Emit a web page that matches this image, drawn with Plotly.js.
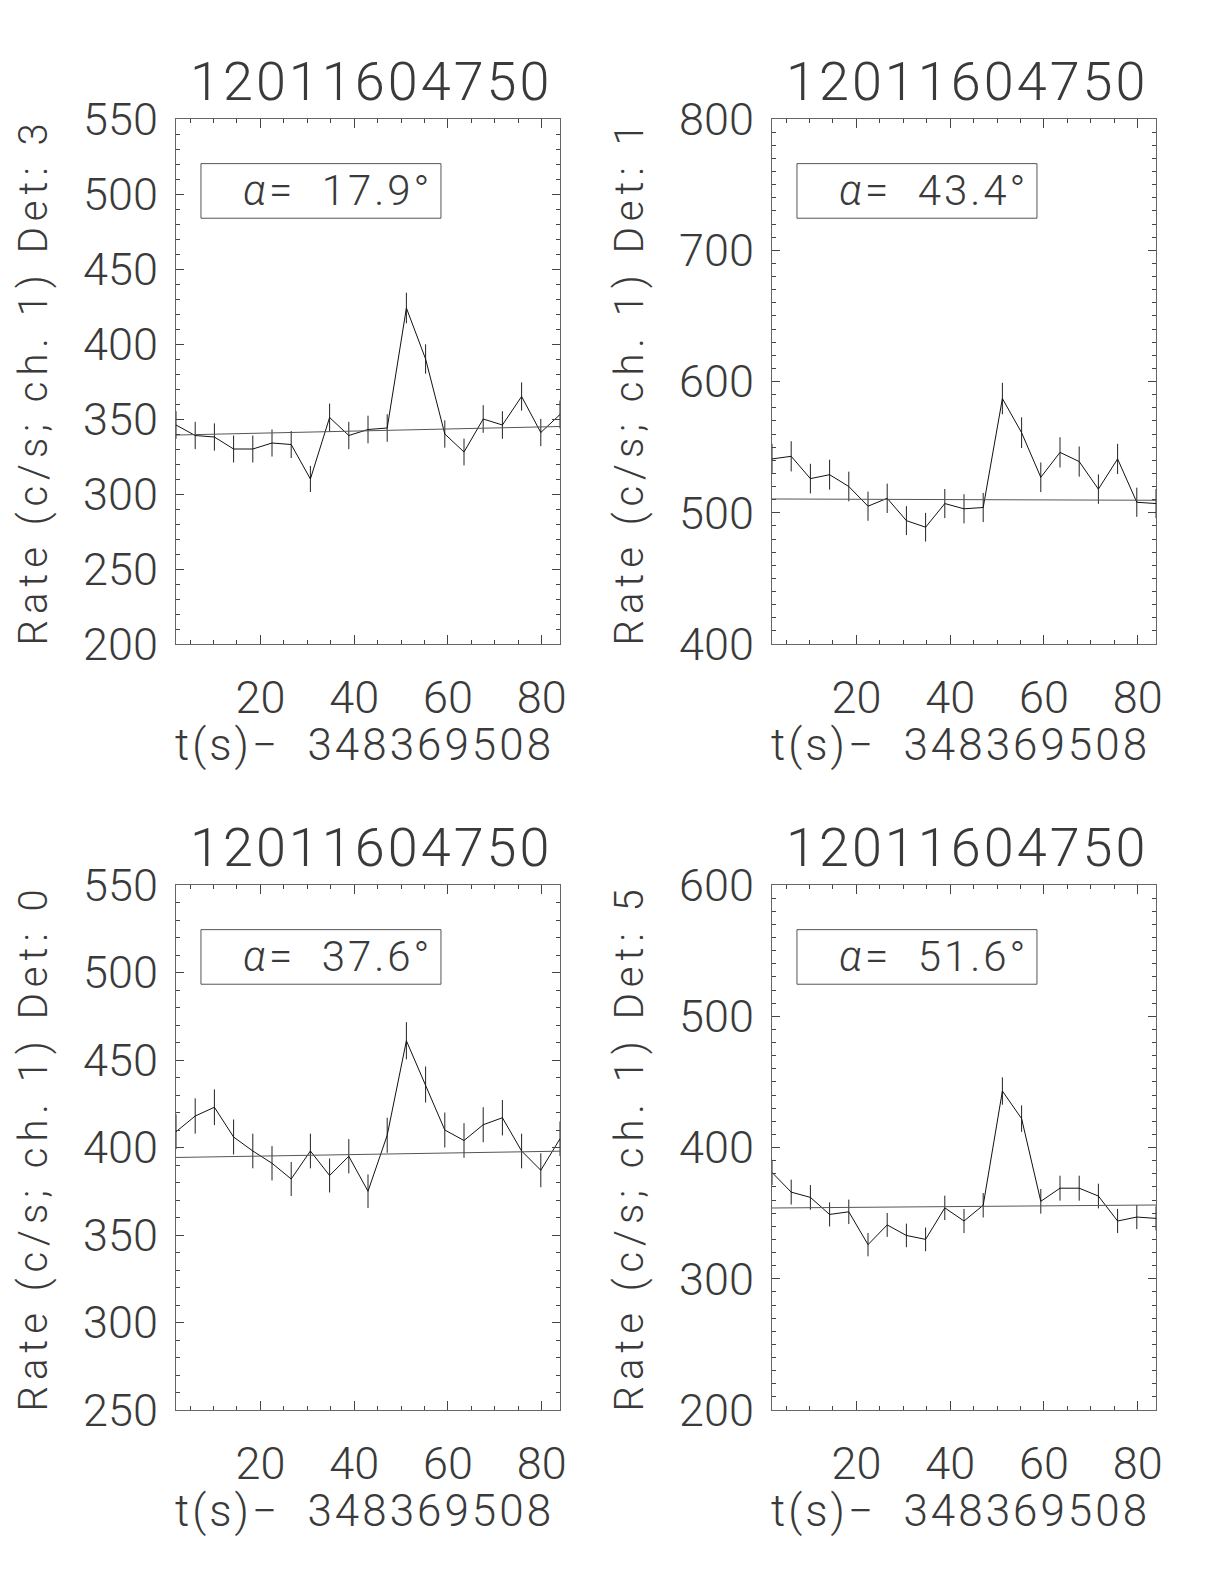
<!DOCTYPE html>
<html>
<head>
<meta charset="utf-8">
<script src="https://cdn.plot.ly/plotly-3.0.1.min.js"></script>
<style>html,body{margin:0;padding:0;background:#fff;}#chart{width:1224px;height:1584px;}</style>
</head>
<body>
<div id="chart"></div>
<script>
// ---- data ----
const timeS = [2.0, 6.096, 10.192, 14.288, 18.384, 22.48, 26.576, 30.672, 34.768, 38.864, 42.96,
               47.056, 51.152, 55.248, 59.344, 63.44, 67.536, 71.632, 75.728, 79.824, 83.92];

const det3Rate = [346, 339, 338, 330, 330, 334, 333, 310, 351, 339, 343, 344, 424, 390, 340, 328, 350, 346, 365, 341, 353];
const det3Err  = [9.2, 9.1, 9.1, 9.0, 9.0, 9.0, 9.0, 8.7, 9.3, 9.1, 9.2, 9.2, 10.2, 9.8, 9.1, 8.9, 9.2, 9.2, 9.4, 9.1, 9.3];
const det3Bkg  = [339.3, 345.0];

const det1Rate = [541, 543, 526, 529, 520, 505, 511, 494, 489, 507, 503, 504, 587, 561, 527, 546, 539, 518, 541, 508, 507];
const det1Err  = [11.5, 11.5, 11.3, 11.4, 11.3, 11.1, 11.2, 11.0, 10.9, 11.1, 11.1, 11.1, 12.0, 11.7, 11.3, 11.5, 11.5, 11.2, 11.5, 11.1, 11.1];
const det1Bkg  = [510.5, 509.5];

const det0Rate = [409, 418, 423, 406, 398, 391, 382, 398, 384, 395, 375, 407, 461, 436, 410, 404, 413, 417, 398, 387, 405];
const det0Err  = [10.0, 10.1, 10.2, 10.0, 9.9, 9.8, 9.7, 9.9, 9.7, 9.8, 9.6, 10.0, 10.6, 10.3, 10.0, 9.9, 10.0, 10.1, 9.9, 9.7, 9.9];
const det0Bkg  = [394.3, 397.9];

const det5Rate = [381, 366, 362, 349, 351, 326, 341, 333, 330, 354, 344, 356, 443, 422, 359, 369, 369, 363, 344, 347, 346];
const det5Err  = [9.6, 9.5, 9.4, 9.2, 9.3, 8.9, 9.1, 9.0, 9.0, 9.3, 9.2, 9.3, 10.4, 10.1, 9.4, 9.5, 9.5, 9.4, 9.2, 9.2, 9.2];
const det5Bkg  = [353.9, 356.2];

const panelTitle = "12011604750";
const detectors = ["3", "1", "0", "5"];
const angles = ["17.9", "43.4", "37.6", "51.6"];
const yRanges = [[200, 550], [400, 800], [250, 550], [200, 600]];
const yDticks = [50, 100, 50, 100];
const xRange = [2.0, 83.92];
const xTitle = "t(s)\u2212\u00A0 348369508";

// ---- layout geometry (paper coords, px) ----
const W = 1224, H = 1584;
const cols = [[176, 560], [772, 1156]];
const rows = [[119, 644], [885, 1410]];
const FONT = {family: "'Roboto Light', Roboto, 'DejaVu Sans', sans-serif", weight: 300, color: "#3a3a3a"};

function spaced(txt, px) {
  return '<span style="letter-spacing:' + px + 'px">' + txt + '</span>';
}

const rates = [det3Rate, det1Rate, det0Rate, det5Rate];
const errs = [det3Err, det1Err, det0Err, det5Err];
const bkgs = [det3Bkg, det1Bkg, det0Bkg, det5Bkg];

const traces = [];
const layout = {
  width: W, height: H,
  margin: {l: 0, r: 0, t: 0, b: 0},
  paper_bgcolor: "#fff", plot_bgcolor: "#fff",
  showlegend: false,
  font: Object.assign({size: 40}, FONT),
  annotations: [], shapes: []
};

for (let i = 0; i < 4; i++) {
  const r = Math.floor(i / 2), c = i % 2;
  const sfx = i === 0 ? "" : String(i + 1);
  const xa = "x" + sfx, ya = "y" + sfx;
  const [x0, x1] = cols[c];
  const [yt, yb] = rows[r];

  traces.push({
    x: timeS, y: rates[i], xaxis: xa, yaxis: ya, type: "scatter", mode: "lines",
    line: {color: "#111", width: 1},
    error_y: {type: "data", array: errs[i], visible: true, thickness: 1, width: 0, color: "#222"}
  });
  traces.push({
    x: [xRange[0], xRange[1]], y: bkgs[i], xaxis: xa, yaxis: ya, type: "scatter", mode: "lines",
    line: {color: "#555", width: 1}
  });

  const axisCommon = {
    showline: true, linecolor: "#666", linewidth: 1, mirror: "ticks",
    ticks: "inside", tickcolor: "#444", tickwidth: 1,
    showgrid: false, zeroline: false,
    tickfont: Object.assign({size: 45}, FONT)
  };
  layout["xaxis" + sfx] = Object.assign({}, axisCommon, {
    domain: [x0 / W, x1 / W], anchor: ya, range: xRange,
    tick0: 0, dtick: 20, ticklen: 9, ticklabelstandoff: 14,
    minor: {dtick: 5, tick0: 0, ticklen: 4, tickcolor: "#444", ticks: "inside", showgrid: false}
  });
  layout["yaxis" + sfx] = Object.assign({}, axisCommon, {
    domain: [(H - yb) / H, (H - yt) / H], anchor: xa, range: yRanges[i],
    tick0: 0, dtick: yDticks[i], ticklen: 8, ticklabelstandoff: 8,
    minor: {dtick: 10, tick0: 0, ticklen: 4, tickcolor: "#444", ticks: "inside", showgrid: false}
  });

  const cx = (x0 + x1) / 2 / W;
  // main title
  layout.annotations.push({
    text: spaced(panelTitle, 3), xref: "paper", yref: "paper", x: cx + 3 / W, y: (H - (yt - 38)) / H,
    xanchor: "center", yanchor: "middle", showarrow: false,
    font: Object.assign({size: 54}, FONT)
  });
  // y title
  layout.annotations.push({
    text: spaced("Rate (c/s; ch. 1) Det: " + detectors[i], 6), xref: "paper", yref: "paper",
    x: (x0 - 143) / W, y: (H - (yt + yb) / 2) / H, textangle: -90,
    xanchor: "center", yanchor: "middle", showarrow: false,
    font: Object.assign({size: 40}, FONT)
  });
  // x title
  layout.annotations.push({
    text: spaced(xTitle, 3), xref: "paper", yref: "paper", x: (x0 + 188) / W, y: (H - (yb + 101)) / H,
    xanchor: "center", yanchor: "middle", showarrow: false,
    font: Object.assign({size: 44}, FONT)
  });
  // alpha label box
  layout.shapes.push({
    type: "rect", xref: xa + " domain", yref: ya + " domain",
    x0: 0.065, x1: 0.69, y0: 0.811, y1: 0.915,
    line: {color: "#555", width: 1}, fillcolor: "rgba(0,0,0,0)"
  });
  layout.annotations.push({
    text: spaced("<i>\u03B1</i>=\u00A0 " + angles[i] + "\u00B0", 3), xref: xa + " domain", yref: ya + " domain",
    x: 0.672, y: 0.863, xanchor: "right", yanchor: "middle", showarrow: false,
    font: Object.assign({size: 42}, FONT)
  });
}

Plotly.newPlot("chart", traces, layout, {staticPlot: true, displayModeBar: false});
</script>
</body>
</html>
